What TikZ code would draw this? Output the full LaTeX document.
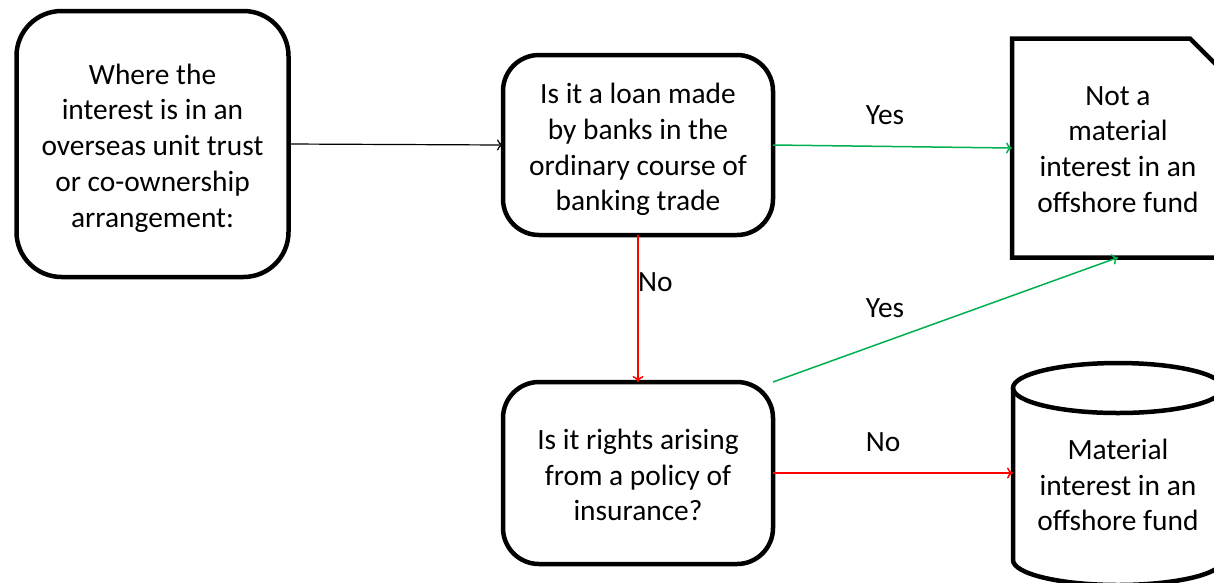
\documentclass[tikz,border=0pt]{standalone}
\usepackage{fontspec}
\setmainfont{Carlito}
\usetikzlibrary{arrows.meta,calc}
\definecolor{ygreen}{RGB}{0,176,80}
\definecolor{nred}{RGB}{255,0,0}
\tikzset{
  boxA/.style={draw, line width=4.5pt, rounded corners=45pt, inner sep=0pt, outer sep=0pt},
  boxB/.style={draw, line width=4.5pt, rounded corners=36pt, inner sep=0pt, outer sep=0pt},
  plain/.style={align=center, inner sep=0pt, outer sep=0pt},
  outline/.style={line width=4.5pt, line join=miter},
  conn/.style={line width=1.5pt, -{To[length=6pt,width=11pt]}},
  lbl/.style={inner sep=0pt}
}
\begin{document}
\begin{tikzpicture}[x=1pt,y=-1pt, font=\fontsize{29.4}{35.8}\selectfont]
\useasboundingbox (0,0) rectangle (1214,582);
\fill[white] (0,0) rectangle (1214,582);
\node[boxA, minimum width=272pt, minimum height=266pt] (A) at (152.5,144) {};
\node[plain] (At) at (152.5,148) {Where the\\interest is in an\\overseas unit trust\\or co-ownership\\arrangement:};
\node[boxB, minimum width=270pt, minimum height=180pt] (B) at (638,145) {};
\node[plain] (Bt) at (638,149.5) {Is it a loan made\\by banks in the\\ordinary course of\\banking trade};
\node[boxB, minimum width=270pt, minimum height=182pt] (C) at (638,473) {};
\node[plain] (Ct) at (638,475) {Is it rights arising\\from a policy of\\insurance?};
\node[plain, minimum width=212pt, minimum height=219pt] (D) at (1118,148) {};
\node[plain] (Dt) at (1118,149.5) {Not a\\material\\interest in an\\offshore fund};
\node[plain, minimum width=210pt] (E) at (1118,485) {Material\\interest in an\\offshore fund};
% document shape
\draw[outline] (D.south west) -- (D.north west) -- ($(D.north east)+(-34pt,0)$) -- ($(D.north east)+(0,-34pt)$) -- (D.south east) -- cycle;
% cylinder
\draw[outline] (1118,388) ellipse [x radius=105pt, y radius=25pt];
\draw[outline] (1013,388) -- (1013,560) arc[start angle=180, end angle=360, x radius=105pt, y radius=25pt] -- (1223,388);
% connectors
\draw[conn, line width=1.2pt] (A.east) -- (B.west);
\draw[conn, ygreen] (B.east) -- (D.west);
\draw[conn, nred] (B.south) -- (C.north);
\draw[conn, ygreen] (C.north east) -- (D.south);
\draw[conn, nred] (C.east) -- (E.west |- C.east);
% labels
\node[lbl] (y1) at (885,115) {Yes};
\node[lbl, anchor=west] (n1) at (638,282) {No};
\node[lbl] (y2) at (885,308) {Yes};
\node[lbl] (n2) at (883,442) {No};
\end{tikzpicture}
\end{document}
